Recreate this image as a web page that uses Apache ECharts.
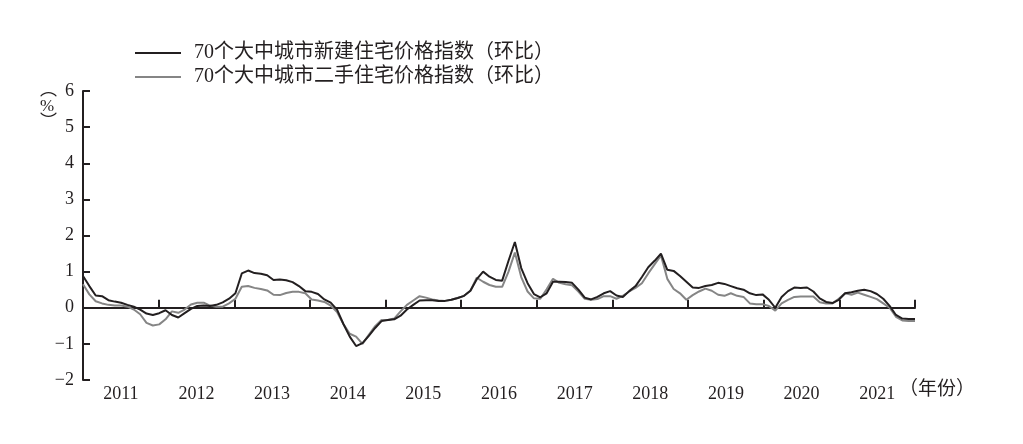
<!DOCTYPE html>
<html><head><meta charset="utf-8">
<script src="https://cdn.jsdelivr.net/npm/echarts@6/dist/echarts.min.js"></script>
<style>html,body{margin:0;padding:0;background:#fff}#c{width:1023px;height:444px}</style>
</head><body><div id="c"></div>
<script>
const years = ['2011','2012','2013','2014','2015','2016','2017','2018','2019','2020','2021'];
const seriesNames = ['70个大中城市新建住宅价格指数（环比）','70个大中城市二手住宅价格指数（环比）'];
const yTicks = [-2,-1,0,1,2,3,4,5,6];
// month-on-month % change, Jan 2011 .. Dec 2021
const newHome = [
  0.88, 0.6, 0.34, 0.32, 0.21, 0.17, 0.14, 0.08, 0.03, -0.05, -0.16, -0.2,
  -0.15, -0.07, -0.2, -0.27, -0.15, -0.03, 0.05, 0.06, 0.05, 0.08, 0.15, 0.25,
  0.4, 0.95, 1.03, 0.96, 0.94, 0.9, 0.77, 0.78, 0.76, 0.71, 0.6, 0.46,
  0.44, 0.38, 0.23, 0.14, -0.05, -0.45, -0.8, -1.06, -0.98, -0.78, -0.56, -0.37,
  -0.34, -0.32, -0.22, -0.05, 0.08, 0.2, 0.21, 0.21, 0.19, 0.19, 0.22, 0.27,
  0.33, 0.47, 0.79, 1.0, 0.86, 0.77, 0.75, 1.3, 1.82, 1.1, 0.68, 0.38,
  0.29, 0.4, 0.72, 0.72, 0.71, 0.69, 0.5, 0.28, 0.23, 0.3, 0.4, 0.46,
  0.34, 0.3, 0.46, 0.6, 0.85, 1.12, 1.3, 1.5, 1.05, 1.02, 0.88, 0.72,
  0.56, 0.55, 0.6, 0.63, 0.69, 0.66, 0.6, 0.54, 0.5, 0.4, 0.35, 0.37,
  0.22, 0.0, 0.3, 0.46, 0.56, 0.55, 0.56, 0.45, 0.26, 0.16, 0.13, 0.22,
  0.4, 0.43, 0.47, 0.5, 0.46, 0.38, 0.25, 0.05, -0.2, -0.3, -0.31, -0.31
];
const secondHand = [
  0.65, 0.37, 0.18, 0.12, 0.08, 0.06, 0.06, 0.03, -0.05, -0.18, -0.42, -0.49,
  -0.46, -0.32, -0.1, -0.14, -0.05, 0.09, 0.14, 0.14, 0.06, 0.03, 0.03, 0.12,
  0.25, 0.58, 0.6, 0.55, 0.52, 0.48, 0.36, 0.35, 0.41, 0.44, 0.44, 0.4,
  0.23, 0.2, 0.16, 0.06, -0.12, -0.45, -0.72, -0.8, -1.0, -0.75, -0.51, -0.34,
  -0.34, -0.3, -0.1, 0.08, 0.2, 0.32, 0.28, 0.23, 0.2, 0.19, 0.22, 0.27,
  0.33, 0.47, 0.83, 0.72, 0.63, 0.58, 0.58, 1.0, 1.53, 0.85, 0.45, 0.26,
  0.25, 0.51, 0.8, 0.69, 0.65, 0.62, 0.45, 0.25, 0.22, 0.24, 0.32, 0.32,
  0.25, 0.33, 0.45, 0.55, 0.68, 0.95, 1.2, 1.45, 0.8, 0.52, 0.4, 0.22,
  0.35, 0.45, 0.53, 0.47, 0.36, 0.33, 0.4, 0.33, 0.3, 0.12, 0.1, 0.1,
  0.05, -0.08, 0.12, 0.22, 0.3, 0.31, 0.31, 0.31, 0.15, 0.12, 0.12, 0.25,
  0.4, 0.36, 0.42, 0.36, 0.3, 0.24, 0.12, 0.0, -0.25, -0.35, -0.37, -0.37
];
const months = [];
years.forEach(y => { for (let m = 1; m <= 12; m++) months.push(y + '-' + m); });

const FONT = '"Liberation Serif", "Noto Sans CJK SC", serif';
const INK = '#231f20';
const GREY = '#858585';
const chart = echarts.init(document.getElementById('c'), null, {renderer: 'canvas'});
chart.setOption({
  animation: false,
  backgroundColor: '#fff',
  grid: {left: 83, right: 108, top: 91, bottom: 64, containLabel: false},
  legend: {
    orient: 'vertical', left: 130, top: 38,
    icon: 'rect', itemWidth: 46, itemHeight: 2, itemGap: 4,
    textStyle: {fontFamily: FONT, fontSize: 20, color: INK, lineHeight: 20, padding: [0, 0, 0, 8]},
    data: [
      {name: seriesNames[0], itemStyle: {color: INK}},
      {name: seriesNames[1], itemStyle: {color: GREY}}
    ]
  },
  xAxis: [
    {type: 'category', data: years, boundaryGap: true,
     axisLine: {onZero: true, lineStyle: {color: INK, width: 2}},
     axisTick: {show: true, inside: true, length: 8, lineStyle: {color: INK, width: 2}},
     axisLabel: {show: false}, splitLine: {show: false}},
    {type: 'category', data: years, boundaryGap: true, position: 'bottom',
     axisLine: {show: false, onZero: false}, axisTick: {show: false},
     axisLabel: {show: true, margin: 5, fontFamily: FONT, fontSize: 18, color: INK},
     splitLine: {show: false}},
    {type: 'category', data: months, boundaryGap: false, show: false}
  ],
  yAxis: {
    type: 'value', min: -2, max: 6, interval: 1,
    axisLine: {show: true, lineStyle: {color: INK, width: 2}},
    axisTick: {show: true, inside: true, length: 7, lineStyle: {color: INK, width: 2}},
    axisLabel: {margin: 9, fontFamily: FONT, fontSize: 18, color: INK,
      formatter: v => (yTicks.includes(v) ? String(v).replace('-', '−') : '')},
    splitLine: {show: false}
  },
  graphic: [
    {type: 'text', left: 40, top: 82, style: {text: '︵\n%\n︶', fontFamily: FONT, fontSize: 17, lineHeight: 16, fill: INK, align: 'center'}},
    {type: 'text', left: 899, top: 381, style: {text: '（年份）', fontFamily: FONT, fontSize: 19, fill: INK}}
  ],
  series: [
    {name: seriesNames[0], type: 'line', xAxisIndex: 2, data: newHome, symbol: 'none',
     lineStyle: {color: INK, width: 2}, itemStyle: {color: INK}, z: 3},
    {name: seriesNames[1], type: 'line', xAxisIndex: 2, data: secondHand, symbol: 'none',
     lineStyle: {color: GREY, width: 2}, itemStyle: {color: GREY}, z: 2}
  ]
});
</script></body></html>
